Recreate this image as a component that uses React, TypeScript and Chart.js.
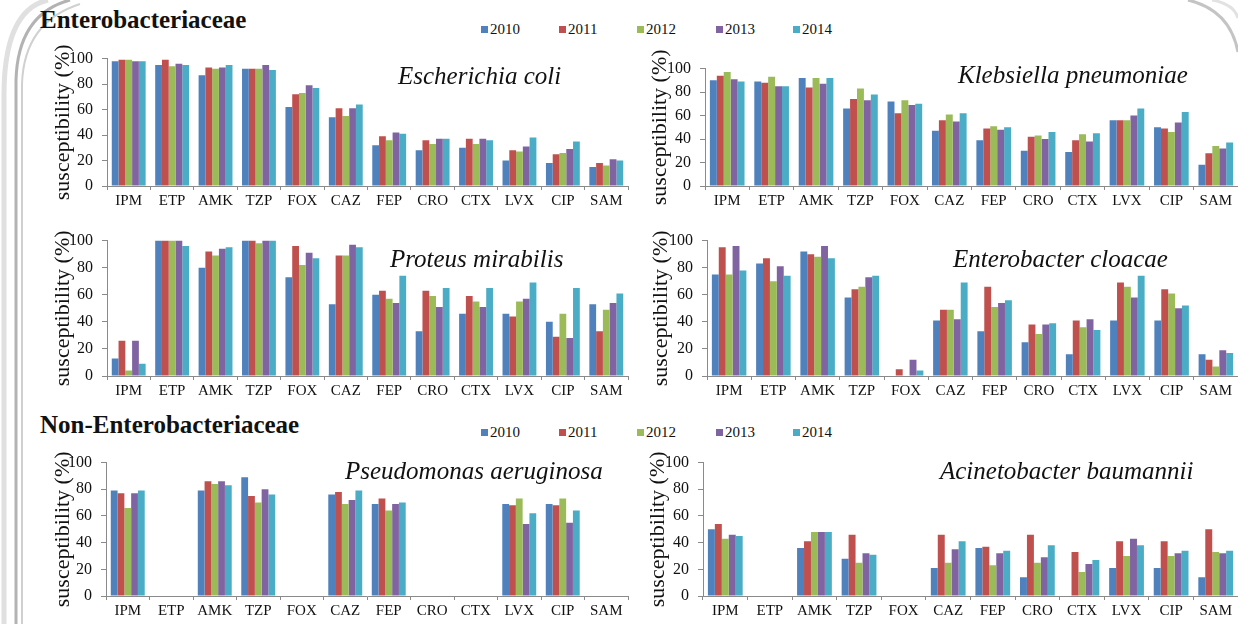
import React, { useEffect, useRef } from "react";
import { Chart, registerables } from "chart.js";

Chart.register(...registerables);

const categories = ["IPM", "ETP", "AMK", "TZP", "FOX", "CAZ", "FEP", "CRO", "CTX", "LVX", "CIP", "SAM"];
const years = ["2010", "2011", "2012", "2013", "2014"];
const colors = ["#4F81BD", "#C0504D", "#9BBB59", "#8064A2", "#4BACC6"];
const yTicks = [0, 20, 40, 60, 80, 100];

// series per year (2010..2014), values per antibiotic
const ecoli = [
  [98, 95, 87, 92, 62, 54, 32, 28, 30, 20, 18, 15],
  [99, 99, 93, 92, 72, 61, 39, 36, 37, 28, 25, 18],
  [99, 94, 92, 92, 73, 55, 36, 33, 33, 27, 26, 16],
  [98, 96, 93, 95, 79, 61, 42, 37, 37, 31, 29, 21],
  [98, 95, 95, 91, 77, 64, 41, 37, 36, 38, 35, 20],
];
const kpneu = [
  [90, 89, 92, 66, 72, 47, 39, 30, 29, 56, 50, 18],
  [94, 88, 84, 74, 62, 56, 49, 42, 39, 56, 49, 28],
  [97, 93, 92, 83, 73, 61, 51, 43, 44, 56, 46, 34],
  [91, 85, 87, 73, 69, 55, 48, 40, 38, 60, 54, 32],
  [89, 85, 92, 78, 70, 62, 50, 46, 45, 66, 63, 37],
];
const proteus = [
  [13, 100, 80, 100, 73, 53, 60, 33, 46, 46, 40, 53],
  [26, 100, 92, 100, 96, 89, 63, 63, 59, 44, 29, 33],
  [4, 100, 89, 98, 82, 89, 57, 59, 55, 55, 46, 49],
  [26, 100, 94, 100, 91, 97, 54, 51, 51, 57, 28, 54],
  [9, 96, 95, 100, 87, 95, 74, 65, 65, 69, 65, 61],
];
const cloacae = [
  [75, 83, 92, 58, 0, 41, 33, 25, 16, 41, 41, 16],
  [95, 87, 90, 64, 5, 49, 66, 38, 41, 69, 64, 12],
  [75, 70, 88, 66, 0, 49, 51, 31, 36, 66, 61, 7],
  [96, 81, 96, 73, 12, 42, 54, 38, 42, 58, 50, 19],
  [78, 74, 87, 74, 4, 69, 56, 39, 34, 74, 52, 17],
];
const pseudo = [
  [79, null, 79, 89, null, 76, 69, null, null, 69, 69, null],
  [77, null, 86, 75, null, 78, 73, null, null, 68, 68, null],
  [66, null, 84, 70, null, 69, 64, null, null, 73, 73, null],
  [77, null, 86, 80, null, 72, 69, null, null, 54, 55, null],
  [79, null, 83, 76, null, 79, 70, null, null, 62, 64, null],
];
const acineto = [
  [50, null, 36, 28, null, 21, 36, 14, 0, 21, 21, 14],
  [54, null, 41, 46, null, 46, 37, 46, 33, 41, 41, 50],
  [43, null, 48, 25, null, 25, 23, 25, 18, 30, 30, 33],
  [46, null, 48, 32, null, 35, 32, 29, 24, 43, 32, 32],
  [45, null, 48, 31, null, 41, 34, 38, 27, 38, 34, 34],
];

const FONT = "'Liberation Serif', 'Times New Roman', serif";

type PanelProps = {
  left: number; top: number; width: number; height: number;
  axisWidth: number; padTop: number; padRight: number; xHeight: number; titlePad: number;
  series: (number | null)[][];
};

function Panel(p: PanelProps) {
  const ref = useRef<HTMLCanvasElement>(null);
  useEffect(() => {
    const chart = new Chart(ref.current as HTMLCanvasElement, {
      type: "bar",
      data: {
        labels: categories,
        datasets: years.map((y, i) => ({
          label: y,
          data: p.series[i] as any,
          backgroundColor: colors[i],
          borderWidth: 0,
          barPercentage: 1,
          categoryPercentage: 0.78,
        })),
      },
      options: {
        animation: false,
        responsive: false,
        maintainAspectRatio: false,
        layout: { padding: { top: p.padTop, right: p.padRight, left: 0, bottom: 0 } },
        plugins: { legend: { display: false }, tooltip: { enabled: false } },
        scales: {
          x: {
            grid: { drawOnChartArea: false, drawTicks: true, tickLength: 4, color: "#8a8a8a", offset: true },
            border: { color: "#8a8a8a" },
            ticks: { font: { family: FONT, size: 15 }, color: "#111", padding: 2, maxRotation: 0, autoSkip: false },
            afterFit: (s: any) => { s.height = p.xHeight; },
          },
          y: {
            min: 0, max: 100,
            afterBuildTicks: (s: any) => { s.ticks = yTicks.map((v) => ({ value: v })); },
            grid: { drawOnChartArea: false, drawTicks: true, tickLength: 5, color: "#8a8a8a" },
            border: { color: "#8a8a8a" },
            ticks: { font: { family: FONT, size: 16 }, color: "#111", padding: 9 },
            title: { display: true, text: "susceptibility (%)", font: { family: FONT, size: 22 }, color: "#111", padding: { top: p.titlePad, bottom: 0 } },
            afterFit: (s: any) => { s.width = p.axisWidth; },
          },
        },
      },
    });
    return () => chart.destroy();
  }, []);
  return (
    <canvas
      ref={ref}
      width={p.width}
      height={p.height}
      style={{ position: "absolute", left: p.left, top: p.top, width: p.width, height: p.height }}
    />
  );
}

function Label(props: { text: string; left: number; baseline: number; size: number; italic?: boolean; bold?: boolean }) {
  const top = props.baseline - Math.round(props.size * 0.84);
  return (
    <div
      style={{
        position: "absolute", left: props.left, top, fontFamily: FONT, fontSize: props.size,
        lineHeight: 1, fontStyle: props.italic ? "italic" : "normal", fontWeight: props.bold ? "bold" : "normal",
        color: "#111", whiteSpace: "nowrap",
      }}
    >
      {props.text}
    </div>
  );
}

const legendX = [481, 559, 637, 716, 793];

function Legend(props: { cy: number }) {
  return (
    <>
      {years.map((y, i) => (
        <div key={y} style={{ position: "absolute", left: legendX[i], top: props.cy - 9, height: 18, display: "flex", alignItems: "center", fontFamily: FONT, fontSize: 15, color: "#111" }}>
          <span style={{ display: "inline-block", width: 7, height: 7, background: colors[i], marginRight: 2 }} />
          <span>{y}</span>
        </div>
      ))}
    </>
  );
}

export default function App() {
  return (
    <div style={{ position: "absolute", left: 0, top: 0, width: 1238, height: 624, overflow: "hidden", background: "#fff" }}>
      {/* decorative frame */}
      <svg width={1238} height={624} style={{ position: "absolute", left: 0, top: 0 }}>
        <path d="M 4 624 L 4 95 Q 4 10 48 0" fill="none" stroke="#e0e0e0" strokeWidth={5} />
        <path d="M 16 624 L 16 80 Q 18 14 70 0" fill="none" stroke="#b3b3b3" strokeWidth={3} />
        <path d="M 22 624 L 22 84 Q 24 22 80 4" fill="none" stroke="#d0d0d0" strokeWidth={2} />
        <path d="M 1188 0 Q 1230 10 1238 52" fill="none" stroke="#c4c4c4" strokeWidth={3} />
        <path d="M 1212 0 Q 1234 4 1238 18" fill="none" stroke="#e2e2e2" strokeWidth={3} />
      </svg>

      <Panel left={40} top={40} width={600} height={175} axisWidth={67} padTop={13} padRight={12} xHeight={29} titlePad={10} series={ecoli} />
      <Panel left={630} top={50} width={608} height={165} axisWidth={75} padTop={16} padRight={0} xHeight={29} titlePad={17} series={kpneu} />
      <Panel left={40} top={222} width={600} height={183} axisWidth={67} padTop={13} padRight={12} xHeight={29} titlePad={10} series={proteus} />
      <Panel left={630} top={222} width={608} height={183} axisWidth={77} padTop={13} padRight={0} xHeight={29} titlePad={18} series={cloacae} />
      <Panel left={40} top={444} width={600} height={180} axisWidth={66} padTop={13} padRight={12} xHeight={28} titlePad={10} series={pseudo} />
      <Panel left={630} top={444} width={608} height={180} axisWidth={73} padTop={13} padRight={0} xHeight={28} titlePad={15} series={acineto} />

      <Label text="Enterobacteriaceae" left={40} baseline={28} size={25} bold />
      <Label text="Non-Enterobacteriaceae" left={40} baseline={433} size={25} bold />
      <Legend cy={29} />
      <Legend cy={432} />

      <Label text="Escherichia coli" left={398} baseline={84} size={25} italic />
      <Label text="Klebsiella pneumoniae" left={958} baseline={83} size={25} italic />
      <Label text="Proteus mirabilis" left={390} baseline={267} size={25} italic />
      <Label text="Enterobacter cloacae" left={953} baseline={267} size={25} italic />
      <Label text="Pseudomonas aeruginosa" left={345} baseline={479} size={25} italic />
      <Label text="Acinetobacter baumannii" left={940} baseline={479} size={25} italic />
    </div>
  );
}
